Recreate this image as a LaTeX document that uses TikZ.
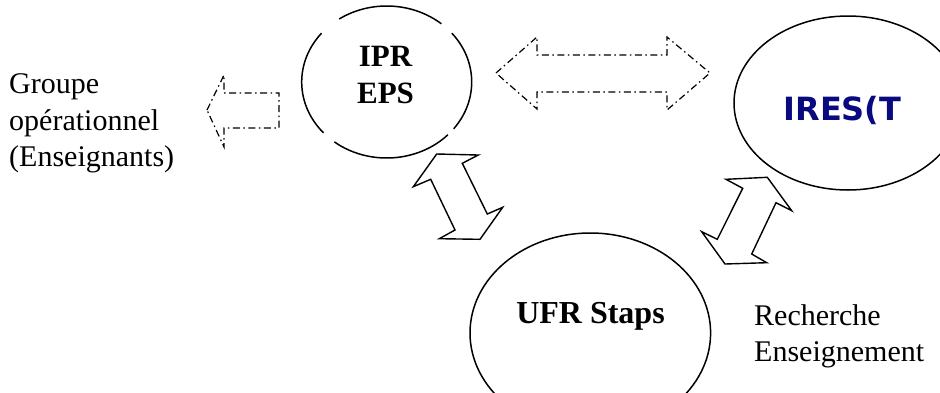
\documentclass[tikz,border=0pt]{standalone}
\usepackage{fontspec}
\setmainfont{Liberation Serif}
\newfontfamily\iresfont{DejaVu Sans}
\usetikzlibrary{shapes.geometric}
\definecolor{iresblue}{RGB}{10,10,128}
\begin{document}
\begin{tikzpicture}[x=1pt,y=-1pt,
  ell/.style={draw, ellipse, line width=1.5pt, inner sep=0pt},
  blockarrow/.style={draw, line width=1.4pt, line join=miter},
  dasharrow/.style={draw, line width=1.2pt, dash pattern=on 7pt off 3.5pt on 1.5pt off 3.5pt},
  plaintxt/.style={font=\fontsize{30}{36.7}\selectfont, inner sep=0pt, text width=200pt, align=left, anchor=base west},
  boldtxt/.style={font=\fontsize{31}{36.7}\selectfont\bfseries, inner sep=0pt}]
\useasboundingbox (0,0) rectangle (940,392);
\clip (0,0) rectangle (940,392);

% IPR EPS ellipse (with small gaps)
\coordinate (iprc) at (386.7,82);
\draw[line width=1.5pt] ([shift={(-50:85 and 76)}]iprc) arc[start angle=-50, end angle=-124, x radius=85, y radius=76];
\draw[line width=1.5pt] ([shift={(-140:85 and 76)}]iprc) arc[start angle=-140, end angle=-222, x radius=85, y radius=76];
\draw[line width=1.5pt] ([shift={(-232:85 and 76)}]iprc) arc[start angle=-232, end angle=-316, x radius=85, y radius=76];
\draw[line width=1.5pt] ([shift={(-322:85 and 76)}]iprc) arc[start angle=-322, end angle=-400, x radius=85, y radius=76];
\node[boldtxt, text width=100pt, align=center, anchor=base] (iprt) at (385.5,66.7) {IPR\\EPS};

% IRES ellipse
\node[ell, minimum width=228pt, minimum height=174pt] (ires) at (848,103) {};
\node[font={\iresfont\fontsize{32}{38}\selectfont\bfseries}, text=iresblue, inner sep=0pt, anchor=base] (irest) at (842.5,120.7) {IRES(T};

% UFR ellipse
\node[ell, minimum width=240.6pt, minimum height=200pt] (ufr) at (590.3,333) {};
\node[boldtxt, font={\fontsize{32}{38}\selectfont\bfseries}, anchor=base] (ufrt) at (590.5,323.3) {UFR Staps};

% side texts
\node[plaintxt] (grp) at (9,93.3) {Groupe\\op\'erationnel\\(Enseignants)};
\node[plaintxt] (rech) at (754,325) {Recherche\\Enseignement};

% dash-dot arrows
\draw[dasharrow] (207,110) -- (224,75) -- (224,93) -- (279,93) -- (279,128) -- (224,128) -- (224,147) -- cycle;
\draw[dasharrow] (496,73) -- (537,37) -- (537,55) -- (667,55) -- (667,37) -- (710,73) -- (667,110) -- (667,92) -- (537,92) -- (537,109) -- cycle;

% solid double block arrows
\draw[blockarrow] (436.7,154) -- (478.3,155) -- (462.3,163.3) -- (487.3,214) -- (502.7,207.3) -- (480,239.3) -- (439.3,238.7) -- (455,230) -- (430.7,179.3) -- (413.3,186.7) -- cycle;
\draw[blockarrow] (726,179.3) -- (767.3,177.3) -- (791.7,210.7) -- (776,202.7) -- (751.7,254) -- (766.7,262.7) -- (725,264) -- (701.7,231.7) -- (717.3,239.3) -- (742.7,188.3) -- cycle;
\end{tikzpicture}
\end{document}
